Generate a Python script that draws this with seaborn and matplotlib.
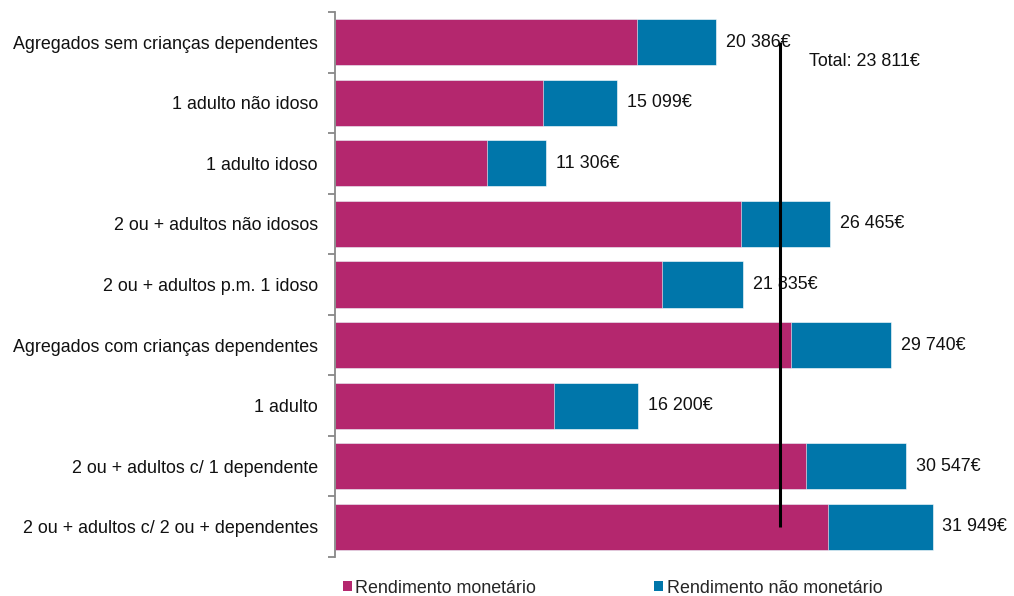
import matplotlib
matplotlib.use("Agg")
import matplotlib.pyplot as plt
from matplotlib.patches import Patch
import numpy as np
import seaborn as sns

# Household types and average income per household (EUR)
categories = [
    "Agregados sem crianças dependentes",
    "1 adulto não idoso",
    "1 adulto idoso",
    "2 ou + adultos não idosos",
    "2 ou + adultos p.m. 1 idoso",
    "Agregados com crianças dependentes",
    "1 adulto",
    "2 ou + adultos c/ 1 dependente",
    "2 ou + adultos c/ 2 ou + dependentes",
]
total_income = [20386, 15099, 11306, 26465, 21835, 29740, 16200, 30547, 31949]
monetary_income = [16175, 11138, 8146, 21731, 17495, 24370, 11709, 25187, 26346]
overall_total = 23811
series_names = ["Rendimento monetário", "Rendimento não monetário"]

MAGENTA = "#B4276E"
BLUE = "#0076AA"
FS = 12.9

sns.set_theme(style="white")
plt.rcParams["font.family"] = ["Liberation Sans", "DejaVu Sans"]

fig = plt.figure(figsize=(10.14, 5.96), dpi=100)
ax = fig.add_axes([0.33, 0.0654, 0.646, 0.9145])

# Stacked bars: the full total in blue, the monetary share on top in magenta
sns.barplot(x=total_income, y=categories, color=BLUE, orient="h", width=0.76,
            saturation=1, edgecolor="white", linewidth=0.4, ax=ax)
sns.barplot(x=monetary_income, y=categories, color=MAGENTA, orient="h", width=0.76,
            saturation=1, edgecolor="white", linewidth=0.4, ax=ax)

ax.set_xlim(0, 35000)
ax.set_ylim(len(categories) - 0.5, -0.5)
ax.set_xlabel("")
ax.set_ylabel("")
ax.set_xticks([])

# Value labels at the end of each bar
for i, v in enumerate(total_income):
    label = f"{v:,.0f}".replace(",", " ") + "€"
    ax.annotate(label, xy=(v, i), xytext=(7, 0), textcoords="offset points",
                va="center", ha="left", fontsize=FS, color="#111111")

# Reference line for the overall average
ax.plot([overall_total, overall_total], [0, len(categories) - 1],
        color="black", linewidth=2.2, solid_capstyle="butt", zorder=5)
ax.annotate(f"Total: {overall_total:,.0f}".replace(",", " ") + "€",
            xy=(overall_total, 0.31), xytext=(21, 0), textcoords="offset points",
            va="center", ha="left", fontsize=FS, color="#111111")

# Left spine with boundary ticks between categories
for side in ["top", "right", "bottom"]:
    ax.spines[side].set_visible(False)
ax.spines["left"].set_color("#888888")
ax.spines["left"].set_linewidth(1.3)
ax.set_yticks(np.arange(len(categories)), minor=False)
ax.set_yticklabels(categories)
ax.set_yticks(np.arange(len(categories) + 1) - 0.5, minor=True)
ax.tick_params(axis="y", which="major", length=0, pad=12, labelsize=FS,
               labelcolor="#111111")
ax.tick_params(axis="y", which="minor", length=5, width=1.3, color="#888888",
               left=True)

handles = [Patch(facecolor=MAGENTA, edgecolor="none"),
           Patch(facecolor=BLUE, edgecolor="none")]
fig.legend(handles, series_names, loc="center left",
           bbox_to_anchor=(0.338, 0.0134), ncol=2, frameon=False, fontsize=FS,
           handlelength=0.5, handleheight=0.5, handletextpad=0.2,
           columnspacing=6.6, borderaxespad=0, borderpad=0)

fig.savefig("out.png", dpi=100)
